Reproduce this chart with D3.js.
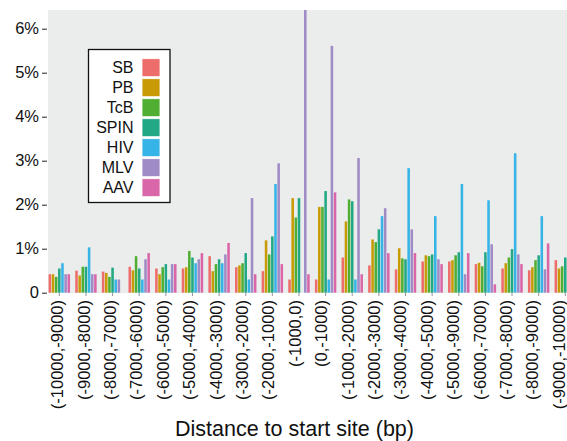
<!DOCTYPE html>
<html>
<head>
<meta charset="utf-8">
<script src="https://cdn.jsdelivr.net/npm/d3@7"></script>
<style>
  html, body { margin: 0; padding: 0; background: #fff; }
  svg { display: block; }
  text { font-family: "Liberation Sans", Arial, Helvetica, sans-serif; fill: #111; }
</style>
</head>
<body>
<svg id="chart" width="567" height="441"></svg>
<script>
const categories = ["(-10000,-9000)", "(-9000,-8000)", "(-8000,-7000)", "(-7000,-6000)", "(-6000,-5000)",
  "(-5000,-4000)", "(-4000,-3000)", "(-3000,-2000)", "(-2000,-1000)", "(-1000,0)",
  "(0,-1000)", "(-1000,-2000)", "(-2000,-3000)", "(-3000,-4000)", "(-4000,-5000)",
  "(-5000,-9000)", "(-6000,-7000)", "(-7000,-8000)", "(-8000,-9000)", "(-9000,-10000)"];

const seriesNames = ["SB", "PB", "TcB", "SPIN", "HIV", "MLV", "AAV"];
const seriesColors = ["#ED6D6A", "#C89A06", "#50AE33", "#22A884", "#36B4E7", "#9F8BC6", "#D966A8"];

// values in percent
const SB   = [0.42, 0.50, 0.48, 0.59, 0.55, 0.55, 0.83, 0.58, 0.49, 0.30, 0.30, 0.80, 0.62, 0.53, 0.71, 0.71, 0.65, 0.55, 0.51, 0.74];
const PB   = [0.42, 0.39, 0.45, 0.51, 0.42, 0.58, 0.49, 0.62, 1.19, 2.15, 1.95, 1.62, 1.21, 1.01, 0.85, 0.74, 0.68, 0.67, 0.58, 0.55];
const TcB  = [0.36, 0.59, 0.36, 0.83, 0.58, 0.95, 0.65, 0.67, 0.87, 1.71, 1.95, 2.12, 1.15, 0.78, 0.83, 0.85, 0.60, 0.80, 0.74, 0.60];
const SPIN = [0.55, 0.59, 0.57, 0.55, 0.65, 0.80, 0.76, 0.90, 1.28, 2.15, 2.31, 2.08, 1.44, 0.76, 0.87, 0.92, 0.92, 0.99, 0.85, 0.80];
const HIV  = [0.67, 1.03, 0.30, 0.30, 0.30, 0.67, 0.67, 0.30, 2.47, 0.00, 0.30, 0.30, 1.74, 2.83, 1.74, 2.47, 2.10, 3.17, 1.74, 1.00];
const MLV  = [0.42, 0.42, 0.30, 0.76, 0.65, 0.76, 0.87, 2.15, 2.94, 6.45, 5.61, 3.06, 1.92, 1.44, 0.76, 0.42, 1.10, 0.87, 0.53, 0.60];
const AAV  = [0.42, 0.42, 0.00, 0.90, 0.65, 0.90, 1.13, 0.42, 0.65, 0.42, 2.28, 0.42, 0.90, 0.90, 0.65, 0.90, 0.19, 0.65, 1.12, 0.90];

const yTicks = [0, 1, 2, 3, 4, 5, 6];
const yTickLabels = ["0", "1%", "2%", "3%", "4%", "5%", "6%"];
const xTitle = "Distance to start site (bp)";

const seriesValues = [SB, PB, TcB, SPIN, HIV, MLV, AAV];
const rows = categories.map((c, i) => ({ cat: c, vals: seriesNames.map((s, j) => ({ s, v: seriesValues[j][i] })) }));

const svg = d3.select("#chart");
const panel = { left: 48, right: 567, top: 10, bottom: 293 };
const FONT = '"Liberation Sans", Arial, Helvetica, sans-serif';

const x = d3.scaleBand().domain(categories).range([46, 46 + 20 * 26.63]).padding(0);
const xInner = d3.scaleBand().domain(seriesNames).range([2.3, x.bandwidth() - 2.3]).padding(0);
const xLabel = d3.scalePoint().domain(categories).range([57.5, 559]);
const y = d3.scaleLinear().domain([0, 6.425]).range([292.7, panel.top]);
const color = d3.scaleOrdinal().domain(seriesNames).range(seriesColors);

svg.append("defs").append("clipPath").attr("id", "clip")
  .append("rect").attr("x", panel.left).attr("y", panel.top)
  .attr("width", panel.right - panel.left).attr("height", panel.bottom - panel.top);

svg.append("rect").attr("x", panel.left).attr("y", panel.top)
  .attr("width", panel.right - panel.left).attr("height", panel.bottom - panel.top)
  .attr("fill", "#EBEDED");

const g = svg.append("g").attr("clip-path", "url(#clip)");
g.selectAll("g.grp").data(rows).join("g").attr("class", "grp")
  .attr("transform", d => `translate(${x(d.cat)},0)`)
  .selectAll("rect").data(d => d.vals.filter(e => e.v > 0)).join("rect")
  .attr("x", d => xInner(d.s) + 0.3)
  .attr("width", xInner.bandwidth() - 0.6)
  .attr("y", d => y(d.v))
  .attr("height", d => y(0) - y(d.v))
  .attr("fill", d => color(d.s));

// y axis
const yAxis = d3.axisLeft(y).tickValues(yTicks).tickFormat((d, i) => yTickLabels[i]).tickSize(5).tickPadding(3);
const ya = svg.append("g").attr("transform", `translate(${panel.left - 1},0)`).call(yAxis);
ya.select(".domain").remove();
ya.selectAll("line").attr("stroke", "#222").attr("stroke-width", 1);
ya.selectAll("text").attr("font-size", "16.5px").attr("fill", "#111").style("font-family", FONT);

// x axis ticks
const xAxis = d3.axisBottom(x).tickSize(3).tickFormat("");
const xa = svg.append("g").attr("transform", `translate(0,${panel.bottom})`).call(xAxis);
xa.select(".domain").remove();
xa.selectAll("line").attr("stroke", "#777").attr("stroke-width", 0.8);

// x tick labels (rotated)
svg.append("g").selectAll("text").data(categories).join("text")
  .attr("transform", d => `translate(${xLabel(d)},${panel.bottom + 7}) rotate(-90)`)
  .attr("dy", "0.35em")
  .attr("text-anchor", "end")
  .attr("font-size", "16.5px").style("font-family", FONT)
  .text(d => d);

svg.append("text").attr("x", 294.5).attr("y", 436)
  .attr("text-anchor", "middle").attr("font-size", "21.5px").style("font-family", FONT).text(xTitle);

// legend
const lg = svg.append("g");
lg.append("rect").attr("x", 88.5).attr("y", 49.5).attr("width", 81.5).attr("height", 153)
  .attr("fill", "#fff").attr("stroke", "#111").attr("stroke-width", 1.3);
const ly = d3.scalePoint().domain(seriesNames).range([67.7, 187.7]);
const items = lg.selectAll("g.item").data(seriesNames).join("g").attr("class", "item");
items.append("rect").attr("x", 142).attr("y", d => ly(d) - 9).attr("width", 18).attr("height", 18)
  .attr("fill", d => color(d)).attr("stroke", "#fff").attr("stroke-width", 0.8);
items.append("text").attr("x", 133.5).attr("y", d => ly(d)).attr("dy", "0.36em")
  .attr("text-anchor", "end").attr("font-size", "16px").style("font-family", FONT).text(d => d);
</script>
</body>
</html>
